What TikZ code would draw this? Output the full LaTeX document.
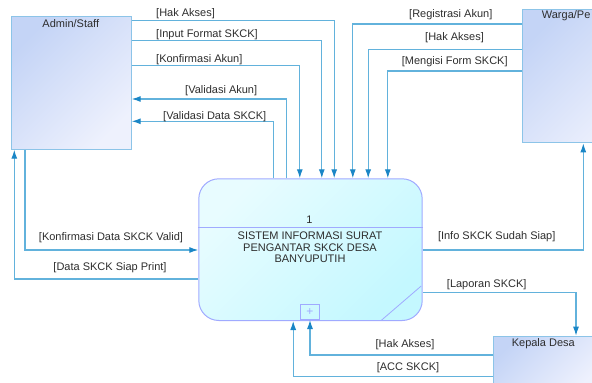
\documentclass[tikz,border=0pt]{standalone}
\usepackage{fontspec}
\setmainfont{Liberation Sans}
\usetikzlibrary{positioning}
\usetikzlibrary{arrows.meta}
\definecolor{linec}{RGB}{98,178,220}
\definecolor{tipc}{RGB}{26,134,198}
\definecolor{entborder}{RGB}{140,196,232}
\definecolor{entA}{RGB}{196,212,246}
\definecolor{entB}{RGB}{238,241,253}
\definecolor{procA}{RGB}{232,252,255}
\definecolor{procB}{RGB}{196,248,255}
\definecolor{procborder}{RGB}{160,170,255}
\definecolor{txt}{RGB}{45,45,45}
\tikzset{
    entity/.style = {rectangle, draw=entborder, line width=1pt, anchor=north west, inner sep=0pt,
                     top color=entA, bottom color=entB, shading angle=45},
    process/.style = {rectangle, rounded corners=20pt, draw=procborder, line width=1pt, anchor=north west,
                      inner sep=0pt, top color=procA, bottom color=procB, shading angle=45},
    enttext/.style = {font=\fontsize{11}{12}\selectfont, text=txt, inner sep=0pt},
    lbl/.style = {font=\fontsize{11}{12}\selectfont, text=txt, inner sep=0pt},
    flow/.style = {-{Latex[length=9pt,width=6pt,color=tipc]}, draw=linec, line width=1.1pt}
}
\begin{document}
\begin{tikzpicture}[x=1pt,y=-1pt]
  \useasboundingbox (0,0) rectangle (592,383);
  % entities
  \node[entity, minimum width=119.7pt, minimum height=132.7pt] at (11,16) (admin) {};
  \node[enttext] at (70.8,24) (adminT) {Admin/Staff};
  \node[entity, minimum width=120pt, minimum height=133pt] at (522,9.3) (warga) {};
  \node[enttext, anchor=west] at (541.7,16) (wargaT) {Warga/Pe};
  \node[entity, minimum width=100pt, minimum height=60pt] at (493.3,335.7) (kades) {};
  \node[enttext] at (543.3,344) (kadesT) {Kepala Desa};
  % process
  \node[process, minimum width=223.4pt, minimum height=141.7pt] at (198.3,178.3) (sys) {};
  \draw[procborder, line width=0.8pt] (sys.west |- 0,227.7) -- (sys.east |- 0,227.7);
  \node[enttext] at (309.5,219.3) (sysnum) {1};
  \node[enttext, align=center, font=\fontsize{11}{11.5}\selectfont] at (310,247.3) (sysT)
    {SISTEM INFORMASI SURAT\\PENGANTAR SKCK DESA\\BANYUPUTIH};
  \node[rectangle, draw=procborder, line width=0.8pt, minimum width=19pt, minimum height=15pt,
        inner sep=0pt, text=procborder, anchor=south] at (310,320) (plus) {\fontsize{12}{12}\selectfont +};
  \draw[procborder, line width=0.8pt] (381.7,320) -- (421.2,286);
  % Admin/Staff flows
  \draw[flow] (admin.east |- 0,20.7) -| ([xshift=23.7pt]sys.north);
  \draw[flow] (admin.east |- 0,40.7) -| ([xshift=11.3pt]sys.north);
  \draw[flow] (admin.east |- 0,65.3) -| ([xshift=-10.7pt]sys.north);
  \draw[flow] ([xshift=-24pt]sys.north) |- (admin.east |- 0,99);
  \draw[flow] ([xshift=-36.7pt]sys.north) |- (admin.east |- 0,121.3);
  \draw[flow] (admin.south -| 25,0) |- (sys.west |- 0,250);
  \draw[flow] (sys.west |- 0,279) -| (admin.south -| 14.3,0);
  % Warga flows
  \draw[flow] (warga.west |- 0,24) -| ([xshift=42.3pt]sys.north);
  \draw[flow] (warga.west |- 0,49.3) -| ([xshift=57.7pt]sys.north);
  \draw[flow] (warga.west |- 0,71) -| ([xshift=77.3pt]sys.north);
  \draw[flow] (sys.east |- 0,250) -| (warga.south -| 583.3,0);
  % Kepala Desa flows
  \draw[flow] (sys.east |- 0,292.3) -| (kades.north -| 576,0);
  \draw[flow] (kades.west |- 0,355) -| (plus.south);
  \draw[flow] (kades.west |- 0,376.7) -| ([xshift=-17.3pt]sys.south);
  % labels
  \node[lbl, anchor=west] at (156,14) (l1) {[Hak Akses]};
  \node[lbl, anchor=west] at (156,34.7) (l2) {[Input Format SKCK]};
  \node[lbl, anchor=west] at (156,60) (l3) {[Konfirmasi Akun]};
  \node[lbl, anchor=west] at (185,90.7) (l4) {[Validasi Akun]};
  \node[lbl, anchor=west] at (163,117) (l5) {[Validasi Data SKCK]};
  \node[lbl, anchor=west] at (409,14.3) (l6) {[Registrasi Akun]};
  \node[lbl, anchor=west] at (425,37.7) (l7) {[Hak Akses]};
  \node[lbl, anchor=west] at (401.7,61.3) (l8) {[Mengisi Form SKCK]};
  \node[lbl] at (111,238) (l9) {[Konfirmasi Data SKCK Valid]};
  \node[lbl] at (110,267.7) (l10) {[Data SKCK Siap Print]};
  \node[lbl] at (496.7,236.7) (l11) {[Info SKCK Sudah Siap]};
  \node[lbl] at (486.7,285) (l12) {[Laporan SKCK]};
  \node[lbl] at (405,345) (l13) {[Hak Akses]};
  \node[lbl] at (408,367.7) (l14) {[ACC SKCK]};
\end{tikzpicture}
\end{document}
